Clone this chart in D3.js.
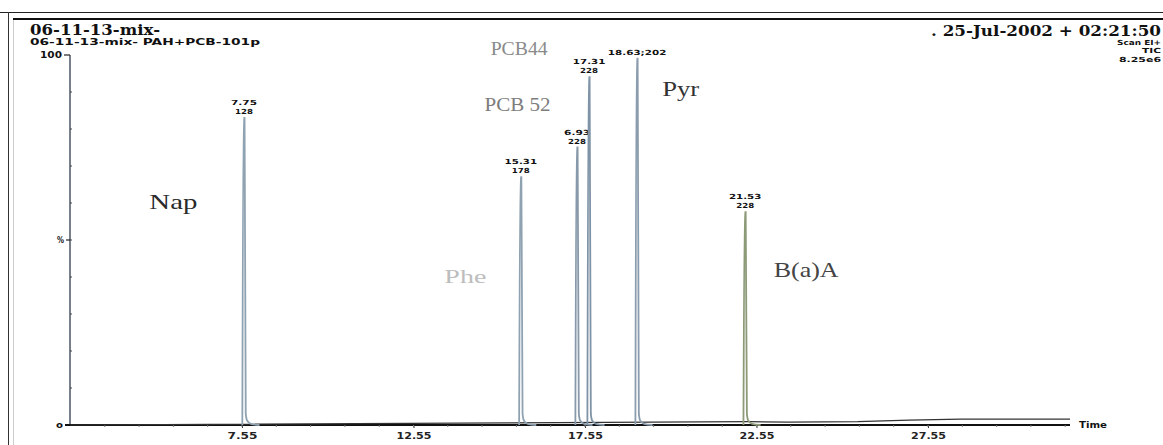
<!DOCTYPE html>
<html>
<head>
<meta charset="utf-8">
<script src="https://cdn.jsdelivr.net/npm/d3@7"></script>
<style>
    body { margin: 0; background: #fff; }
    svg { display: block; }
</style>
</head>
<body>
<div id="chart"></div>
<script>
// Chart data
var peakTimes = [7.61, 15.68, 17.32, 17.67, 19.07, 22.22];
var peakHeights = [83, 67, 75, 94, 99, 57.5];
var peakTimeLabels = ["7.75", "15.31", "6.93", "17.31", "18.63;202", "21.53"];
var peakMassLabels = ["128", "178", "228", "228", "", "228"];
var tickValues = [7.55, 12.55, 17.55, 22.55, 27.55];
var baselineTimes = [2.54, 22.35, 23.5, 25.5, 27.0, 28.5, 31.69];
var baselineValues = [0, 0.9, 0.8, 0.9, 1.3, 1.6, 1.6];
var compoundNames = ["Nap", "Phe", "PCB 52", "PCB44", "Pyr", "B(a)A"];

var width = 1163, height = 445;

// Plot area
var margin = { top: 55, right: 93, bottom: 20, left: 70 };
var plotW = width - margin.left - margin.right;
var plotH = height - margin.top - margin.bottom;

var svg = d3.select("#chart").append("svg")
    .attr("width", width)
    .attr("height", height);

var x = d3.scaleLinear().domain([2.536, 31.69]).range([margin.left, margin.left + plotW]);
var y = d3.scaleLinear().domain([0, 100]).range([margin.top + plotH, margin.top]);

// Page frame (scan borders)
svg.append("line").attr("x1", 0).attr("x2", width).attr("y1", 12.5).attr("y2", 12.5)
    .attr("stroke", "#222").attr("stroke-width", 1);
svg.append("line").attr("x1", 13).attr("x2", width).attr("y1", 19).attr("y2", 19)
    .attr("stroke", "#111").attr("stroke-width", 2);
svg.append("line").attr("x1", 8.5).attr("x2", 8.5).attr("y1", 12).attr("y2", height)
    .attr("stroke", "#333").attr("stroke-width", 1);
svg.append("line").attr("x1", 13.5).attr("x2", 13.5).attr("y1", 20).attr("y2", height)
    .attr("stroke", "#ccc").attr("stroke-width", 1);

// Header texts (scan text is wide, so stretch with textLength)
var headFont = "'DejaVu Serif', 'Liberation Serif', serif";
var nameFont = "'Liberation Serif', 'DejaVu Serif', serif";
var smallFont = "'DejaVu Sans', 'Liberation Sans', Arial, sans-serif";
var stretchText = function(parent, txt, px, py, len, font, size, anchor) {
    return parent.append("text")
        .attr("x", px).attr("y", py)
        .attr("text-anchor", anchor || "start")
        .attr("textLength", len)
        .attr("lengthAdjust", "spacingAndGlyphs")
        .style("font-family", font).style("font-size", size + "px").style("font-weight", "700")
        .attr("fill", "#111").text(txt);
};
stretchText(svg, "06-11-13-mix-", 30, 35, 130, headFont, 14);
stretchText(svg, "06-11-13-mix- PAH+PCB-101p", 30, 45, 230, smallFont, 8);
stretchText(svg, ". 25-Jul-2002 + 02:21:50", 1161, 36, 230, headFont, 14, "end");
stretchText(svg, "Scan EI+", 1161, 45, 44, smallFont, 7, "end");
stretchText(svg, "TIC", 1161, 53, 19, smallFont, 7, "end");
stretchText(svg, "8.25e6", 1161, 62, 42, smallFont, 7, "end");

// Y axis
var yAxisG = svg.append("g");
yAxisG.append("line")
    .attr("x1", x.range()[0]).attr("x2", x.range()[0])
    .attr("y1", y(100)).attr("y2", y(0))
    .attr("stroke", "#4a5560").attr("stroke-width", 1.5);
yAxisG.selectAll(".ytick").data(d3.range(10, 100, 10)).enter().append("line")
    .attr("x1", x.range()[0]).attr("x2", x.range()[0] + 2)
    .attr("y1", function(d) { return y(d); }).attr("y2", function(d) { return y(d); })
    .attr("stroke", "#445").attr("stroke-width", 1);
yAxisG.append("line").attr("x1", x.range()[0] - 6).attr("x2", x.range()[0])
    .attr("y1", y(100)).attr("y2", y(100)).attr("stroke", "#222").attr("stroke-width", 1.2);
yAxisG.append("line").attr("x1", x.range()[0] - 4).attr("x2", x.range()[0])
    .attr("y1", y(50)).attr("y2", y(50)).attr("stroke", "#222").attr("stroke-width", 1.2);
stretchText(yAxisG, "100", x.range()[0] - 8, y(100) + 3, 22, smallFont, 8, "end");
stretchText(yAxisG, "%", x.range()[0] - 6, y(50) + 3, 7, smallFont, 8, "end");
stretchText(yAxisG, "o", x.range()[0] - 7, y(0) + 3, 7, smallFont, 9, "end");

// X axis
var xAxis = d3.axisBottom(x)
    .tickValues(tickValues)
    .tickSize(3)
    .tickFormat(d3.format(".2f"));
var xAxisG = svg.append("g")
    .attr("transform", "translate(0," + y(0) + ")")
    .call(xAxis);
xAxisG.select(".domain").attr("d", "M" + (x.range()[0] - 5) + ",0H" + x.range()[1])
    .attr("stroke", "#111").attr("stroke-width", 2);
xAxisG.selectAll(".tick line").attr("stroke", "#333");
xAxisG.selectAll(".tick text")
    .attr("dy", "1.0em")
    .attr("textLength", function(d) { return d < 10 ? 30 : 35; })
    .attr("lengthAdjust", "spacingAndGlyphs")
    .style("font-family", smallFont).style("font-size", "8px").style("font-weight", "700")
    .attr("fill", "#222");
xAxisG.selectAll(".minor").data(d3.range(3.55, 31.6, 1)).enter().append("line")
    .attr("x1", function(d) { return x(d); }).attr("x2", function(d) { return x(d); })
    .attr("y1", 0).attr("y2", 2)
    .attr("stroke", "#777").attr("stroke-width", 1);
stretchText(svg, "Time", x.range()[1] + 9, y(0) + 3, 28, smallFont, 8);

// Baseline trace
var line = d3.line()
    .x(function(d) { return x(d[0]); })
    .y(function(d) { return y(d[1]); });
svg.append("path")
    .attr("d", line(d3.zip(baselineTimes, baselineValues)))
    .attr("fill", "none").attr("stroke", "#333").attr("stroke-width", 1.2);

// Peaks
var peakColors = ["#8fa2b2", "#8fa2b2", "#8799aa", "#7f93a6", "#8a9cad", "#8d9a78"];
var peakLine = d3.line()
    .x(function(d) { return x(d[0]); })
    .y(function(d) { return y(d[1]); })
    .curve(d3.curveMonotoneX);
peakTimes.forEach(function(t, i) {
    var h = peakHeights[i];
    var pts = [
        [t - 0.05, 0],
        [t - 0.015, h],
        [t + 0.015, h],
        [t + 0.05, 3],
        [t + 0.09, 1.2],
        [t + 0.2, 0.3],
        [t + 0.45, 0]
    ];
    svg.append("path")
        .attr("d", peakLine(pts))
        .attr("fill", "none")
        .attr("stroke", peakColors[i])
        .attr("stroke-width", 1.8);

    // Retention time and mass labels
    var hasMass = peakMassLabels[i] !== "";
    var tl = peakTimeLabels[i];
    stretchText(svg, tl, x(t), y(h) - (hasMass ? 13 : 4), tl.length * 6.5, smallFont, 7, "middle");
    if (hasMass) {
        stretchText(svg, peakMassLabels[i], x(t), y(h) - 4, 18, smallFont, 7, "middle");
    }
});

// Compound names (in time / % units)
var nameLayout = [
    { t: 4.85, v: 58.5, size: 22, len: 48, color: "#2a2a2a" },
    { t: 13.45, v: 38.5, size: 18, len: 42, color: "#bdbdbd" },
    { t: 14.62, v: 85, size: 18, len: 66, color: "#7d7d7d" },
    { t: 14.8, v: 100, size: 18, len: 57, color: "#8a8a8a" },
    { t: 19.8, v: 89, size: 22, len: 37, color: "#333" },
    { t: 23.05, v: 40, size: 21, len: 65, color: "#444" }
];
compoundNames.forEach(function(name, i) {
    var p = nameLayout[i];
    svg.append("text")
        .attr("x", x(p.t)).attr("y", y(p.v))
        .attr("textLength", p.len)
        .attr("lengthAdjust", "spacingAndGlyphs")
        .style("font-family", nameFont).style("font-size", p.size + "px")
        .attr("fill", p.color).text(name);
});
</script>
</body>
</html>
